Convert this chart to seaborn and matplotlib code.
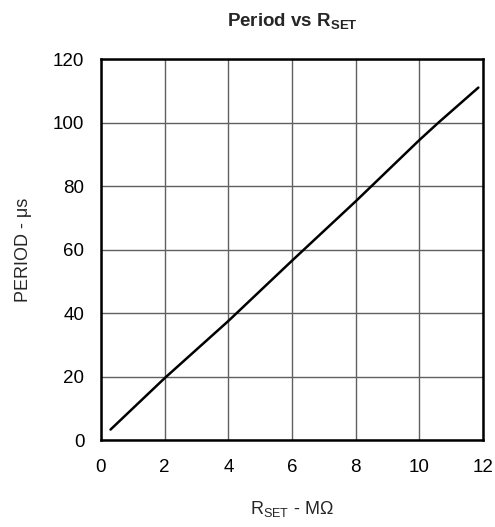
import matplotlib
matplotlib.use("Agg")
import matplotlib.pyplot as plt
import seaborn as sns
import pandas as pd

rset_mohm = [0.3, 2.0, 4.0, 6.0, 8.0, 10.0, 10.6, 11.85]
period_us = [3.3, 19.5, 37.5, 56.5, 75.2, 94.5, 100.0, 111.0]
x_ticks = [0, 2, 4, 6, 8, 10, 12]
y_ticks = [0, 20, 40, 60, 80, 100, 120]

sns.set_style("white")
plt.rcParams['font.family'] = ['Liberation Sans', 'DejaVu Sans']
plt.rcParams['mathtext.fontset'] = 'custom'
plt.rcParams['mathtext.rm'] = 'Liberation Sans'
plt.rcParams['mathtext.bf'] = 'Liberation Sans:bold'

df = pd.DataFrame({"R": rset_mohm, "P": period_us})

fig = plt.figure(figsize=(4.95, 5.27), dpi=100)
ax = fig.add_axes([0.204, 0.165, 0.772, 0.723])

sns.lineplot(data=df, x="R", y="P", ax=ax, color="black", linewidth=1.8, zorder=3)

ax.set_xlim(0, 12)
ax.set_ylim(0, 120)
ax.set_xticks(x_ticks)
ax.set_yticks(y_ticks)
ax.tick_params(axis='y', length=0, labelsize=13.5, pad=12, colors='black')
ax.tick_params(axis='x', length=0, labelsize=13.5, pad=14, colors='black')
ax.grid(True, color='#606060', linewidth=1.0)
ax.set_axisbelow(True)
for s in ax.spines.values():
    s.set_visible(True)
    s.set_color('black')
    s.set_linewidth(1.8)

ax.set_xlabel(r'R$_{\mathregular{SET}}$ - MΩ', fontsize=13, labelpad=16)
ax.set_ylabel('PERIOD - μs', fontsize=13, labelpad=15)
ax.set_title(r'Period vs R$_{\mathbf{SET}}$', fontsize=13.5, fontweight='bold', pad=23)

fig.savefig("out.png", dpi=100)
